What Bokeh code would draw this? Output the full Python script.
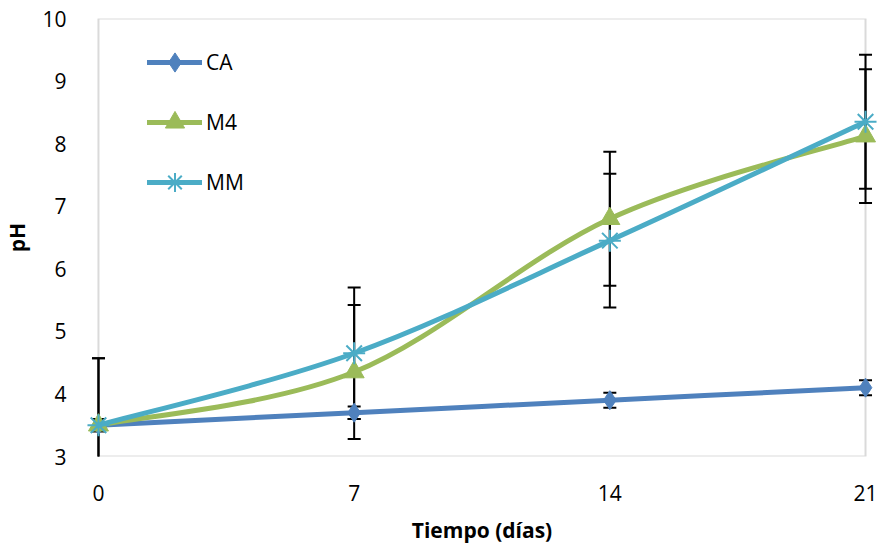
from bokeh.plotting import figure
from bokeh.models import (ColumnDataSource, Range1d, FixedTicker, BoxAnnotation,
                          Legend, LegendItem)
from bokeh.embed import file_html
from bokeh.resources import INLINE

# pH over storage time
dias = [0, 7, 14, 21]
ca = [3.5, 3.7, 3.9, 4.1]
ca_err = [0.1, 0.1, 0.12, 0.12]
m4 = [3.5, 4.35, 6.8, 8.12]
m4_err = [1.07, 1.07, 1.07, 1.07]
mm = [3.5, 4.65, 6.45, 8.35]
mm_err = [1.07, 1.05, 1.07, 1.07]

x_ticks = [0, 7, 14, 21]
y_ticks = [3, 4, 5, 6, 7, 8, 9, 10]

FONT = "Open Sans"
C_CA = "#4F81BD"
C_M4 = "#9BBB59"
C_MM = "#4BACC6"
GRAY = "#868686"

pad = 294 / 768  # room for the edge markers left/right of the day axis
p = figure(width=883, height=546, output_backend="svg", toolbar_location=None,
           x_range=Range1d(-pad, 21 + pad), y_range=Range1d(3, 10),
           min_border_left=83, min_border_right=4, min_border_top=18,
           min_border_bottom=90)
p.outline_line_color = None
p.xgrid.visible = False
p.ygrid.visible = False
p.background_fill_color = "white"

# plot box from day 0 to day 21
p.add_layout(BoxAnnotation(left=0, right=21, bottom=3, top=10, fill_alpha=0,
                           line_color=GRAY, line_width=2, level="underlay"))

for ax in (p.xaxis[0], p.yaxis[0]):
    ax.axis_line_color = None
    ax.major_tick_line_color = None
    ax.minor_tick_line_color = None
    ax.major_label_text_font = FONT
    ax.major_label_text_font_size = "21px"
    ax.major_label_text_color = "black"
    ax.axis_label_text_font = FONT
    ax.axis_label_text_font_style = "bold"
    ax.axis_label_text_font_size = "21px"
    ax.axis_label_text_color = "black"

p.xaxis.ticker = FixedTicker(ticks=x_ticks)
p.yaxis.ticker = FixedTicker(ticks=y_ticks)
p.xaxis.axis_label = "Tiempo (días)"
p.yaxis.axis_label = "pH"
p.xaxis.major_label_standoff = 22
p.yaxis.major_label_standoff = 12
p.xaxis.axis_label_standoff = 12
p.yaxis.axis_label_standoff = 8


def smooth_segments(xs, ys):
    """Bezier pieces of a smoothed line through the points (Catmull-Rom)."""
    n = len(xs)
    seg = dict(x0=[], y0=[], x1=[], y1=[], cx0=[], cy0=[], cx1=[], cy1=[])
    for i in range(n - 1):
        xp, yp = (xs[i - 1], ys[i - 1]) if i > 0 else (xs[i], ys[i])
        xn, yn = (xs[i + 2], ys[i + 2]) if i + 2 < n else (xs[i + 1], ys[i + 1])
        seg["x0"].append(xs[i]); seg["y0"].append(ys[i])
        seg["x1"].append(xs[i + 1]); seg["y1"].append(ys[i + 1])
        seg["cx0"].append(xs[i] + (xs[i + 1] - xp) / 6)
        seg["cy0"].append(ys[i] + (ys[i + 1] - yp) / 6)
        seg["cx1"].append(xs[i + 1] - (xn - xs[i]) / 6)
        seg["cy1"].append(ys[i + 1] - (yn - ys[i]) / 6)
    return ColumnDataSource(seg)


series = [
    ("CA", ca, ca_err, C_CA, dict(marker="diamond", size=19)),
    ("M4", m4, m4_err, C_M4, dict(marker="triangle", size=20)),
    ("MM", mm, mm_err, C_MM, dict(marker="asterisk", size=22, line_width=2)),
]

# error bars
for name, vals, err, color, mk in series:
    lo = [v - e for v, e in zip(vals, err)]
    hi = [v + e for v, e in zip(vals, err)]
    p.segment(x0=dias, y0=lo, x1=dias, y1=hi, line_color="black", line_width=2)
    p.scatter(x=dias + dias, y=lo + hi, marker="dash", size=13,
              line_color="black", line_width=2)

items = []
for name, vals, err, color, mk in series:
    curve = p.bezier(x0="x0", y0="y0", x1="x1", y1="y1", cx0="cx0", cy0="cy0",
                     cx1="cx1", cy1="cy1", source=smooth_segments(dias, vals),
                     line_color=color, line_width=5, line_cap="round")
    kw = dict(mk)
    lw = kw.pop("line_width", 1)
    sr = p.scatter(x=dias, y=vals, fill_color=color, line_color=color,
                   line_width=lw, **kw)
    items.append(LegendItem(label=name, renderers=[curve, sr], index=0))

legend = Legend(items=items, location=(63, 250), orientation="vertical",
                glyph_width=55, glyph_height=48, label_height=48, spacing=12,
                padding=0, margin=0, label_standoff=4, border_line_color=None,
                background_fill_alpha=0, label_text_font=FONT,
                label_text_font_size="21px", label_text_color="black")
p.add_layout(legend, "center")

open("out.html", "w").write(file_html(p, INLINE))
